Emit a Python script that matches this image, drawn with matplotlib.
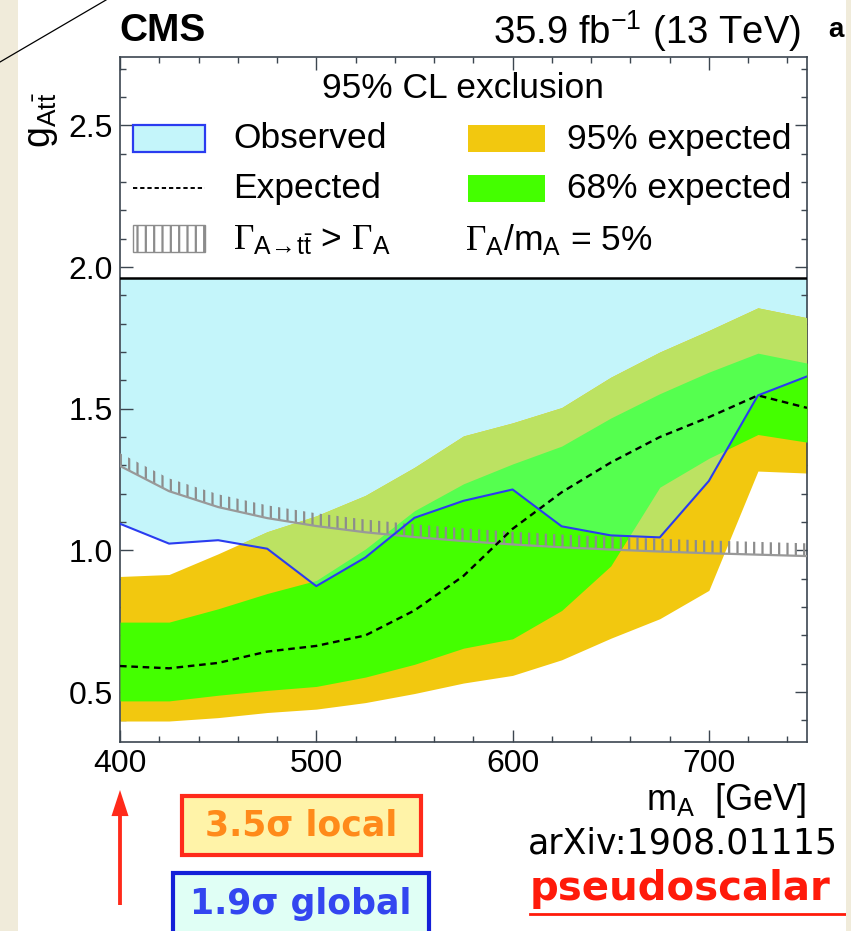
import matplotlib
matplotlib.use("Agg")
import matplotlib.pyplot as plt
from matplotlib.patches import Rectangle, FancyArrow
from matplotlib.lines import Line2D
from matplotlib.ticker import MultipleLocator

plt.rcParams['font.family'] = ['Liberation Sans', 'DejaVu Sans']
plt.rcParams['mathtext.fontset'] = 'custom'
plt.rcParams['mathtext.rm'] = 'Liberation Sans'
plt.rcParams['mathtext.it'] = 'Liberation Sans:italic'
plt.rcParams['mathtext.bf'] = 'Liberation Sans:bold'
plt.rcParams['mathtext.cal'] = 'Liberation Serif'
plt.rcParams['hatch.linewidth'] = 1.6

# ---- limits on the A->tt coupling, Gamma_A/m_A = 5% ----
mass = [400, 425, 450, 475, 500, 525, 550, 575, 600, 625, 650, 675, 700, 725, 750]
observed = [1.094, 1.024, 1.036, 1.006, 0.874, 0.975, 1.115, 1.175, 1.215,
            1.085, 1.053, 1.046, 1.245, 1.547, 1.614]
expected = [0.592, 0.584, 0.603, 0.643, 0.663, 0.700, 0.788, 0.910, 1.076,
            1.205, 1.310, 1.400, 1.470, 1.547, 1.503]
exp95_lo = [0.398, 0.398, 0.410, 0.428, 0.440, 0.463, 0.495, 0.532, 0.559,
            0.614, 0.690, 0.759, 0.859, 1.280, 1.273]
exp95_hi = [0.908, 0.915, 0.988, 1.066, 1.122, 1.194, 1.293, 1.404, 1.450,
            1.504, 1.611, 1.700, 1.776, 1.856, 1.821]
exp68_lo = [0.469, 0.469, 0.489, 0.506, 0.520, 0.553, 0.598, 0.655, 0.688,
            0.788, 0.945, 1.223, 1.325, 1.409, 1.382]
exp68_hi = [0.747, 0.747, 0.794, 0.848, 0.894, 1.005, 1.140, 1.235, 1.305,
            1.368, 1.467, 1.553, 1.629, 1.696, 1.661]
# coupling at which Gamma(A->tt) equals the total width
width_limit = [1.298, 1.209, 1.153, 1.114, 1.086, 1.064, 1.047, 1.033, 1.021,
               1.011, 1.003, 0.996, 0.990, 0.985, 0.980]
scan_top = 1.96

C_OBS = '#c4f5fa'
C_95 = '#f2c80f'
C_68 = '#44ff00'
C_95_OBS = '#bce262'
C_68_OBS = '#55ff4f'
C_LINE = '#2a3cf0'
C_GRAY = '#8c8c8c'

W, H = 851, 931
fig = plt.figure(figsize=(W / 100, H / 100), dpi=100)
fig.patch.set_facecolor('white')


def fx(px):
    return px / W


def fy(py):
    return 1 - py / H


ax = fig.add_axes([fx(120), fy(741.7), fx(807) - fx(120), fy(57.3) - fy(741.7)])
ax.set_xlim(400, 750)
ax.set_ylim(0.325, 2.74)

# excluded region and expected bands
obs_fill = ax.fill_between(mass, observed, scan_top, color=C_OBS, lw=0, zorder=1)
ax.fill_between(mass, exp95_lo, exp95_hi, color=C_95, lw=0, zorder=2)
ax.fill_between(mass, exp68_lo, exp68_hi, color=C_68, lw=0, zorder=3)
clip_path = obs_fill.get_paths()[0]
b95 = ax.fill_between(mass, exp95_lo, exp95_hi, color=C_95_OBS, lw=0, zorder=4)
b95.set_clip_path(clip_path, ax.transData)
b68 = ax.fill_between(mass, exp68_lo, exp68_hi, color=C_68_OBS, lw=0, zorder=5)
b68.set_clip_path(clip_path, ax.transData)

# width constraint with hatching on the excluded side
hatch_top = [v + 0.045 for v in width_limit]
ax.fill_between(mass, width_limit, hatch_top, facecolor='none', edgecolor=C_GRAY,
                hatch='||', lw=0, zorder=6)
ax.plot(mass, width_limit, color='#999999', lw=1.6, zorder=7)

ax.plot(mass, expected, color='black', lw=1.7, ls=(0, (2.8, 2.0)), zorder=8)
ax.plot(mass, observed, color=C_LINE, lw=1.5, zorder=9)
ax.axhline(scan_top, color='black', lw=1.8, zorder=10)

# axes styling
for s in ax.spines.values():
    s.set_color('#3c4650')
    s.set_linewidth(1.2)
ax.xaxis.set_major_locator(MultipleLocator(100))
ax.xaxis.set_minor_locator(MultipleLocator(20))
ax.yaxis.set_major_locator(MultipleLocator(0.5))
ax.yaxis.set_minor_locator(MultipleLocator(0.1))
ax.tick_params(which='both', direction='in', top=True, right=True,
               color='#3c4650', width=1.0, labelsize=23, zorder=11)
ax.tick_params(which='major', length=9, pad=5)
ax.tick_params(which='minor', length=4.5)
ax.set_yticks([0.5, 1.0, 1.5, 2.0, 2.5])
ax.set_yticklabels(['0.5', '1.0', '1.5', '2.0', '2.5'])
ax.set_xticks([400, 500, 600, 700])

# header and axis titles
fig.text(fx(119), fy(31), 'CMS', fontsize=28, fontweight='bold', va='center', ha='left')
fig.text(fx(801), fy(31), r'35.9 fb$^{-1}$ (13 TeV)', fontsize=27.5, va='center', ha='right')
fig.text(fx(806), fy(800), r'm$_{\mathrm{A}}$  [GeV]', fontsize=26, va='center', ha='right')
fig.text(fx(42), fy(120), r'$\mathrm{g}_{\mathrm{At}\bar{\mathrm{t}}}$', fontsize=27,
         rotation=90, va='center', ha='center')

# legend
FS = 25.5
fig.text(fx(463), fy(89), '95% CL exclusion', fontsize=FS, va='center', ha='center')
fig.add_artist(Rectangle((fx(133), fy(152)), fx(205) - fx(133), fy(125) - fy(152),
                         transform=fig.transFigure, facecolor=C_OBS,
                         edgecolor=C_LINE, lw=1.6))
fig.text(fx(233), fy(139), 'Observed', fontsize=FS, va='center')
fig.add_artist(Line2D([fx(133), fx(205)], [fy(188), fy(188)], transform=fig.transFigure,
                      color='black', lw=1.4, ls=(0, (2.2, 1.5))))
fig.text(fx(233), fy(189), 'Expected', fontsize=FS, va='center')
fig.add_artist(Rectangle((fx(133), fy(252)), fx(205) - fx(133), fy(225) - fy(252),
                         transform=fig.transFigure, facecolor='white',
                         edgecolor=C_GRAY, hatch='||', lw=1.0))
fig.text(fx(233), fy(240),
         r'$\mathcal{\Gamma}_{\mathrm{A}\!\rightarrow\!\mathrm{t}\bar{\mathrm{t}}}$ > $\mathcal{\Gamma}_{\mathrm{A}}$',
         fontsize=FS, va='center')
fig.add_artist(Rectangle((fx(468), fy(152)), fx(545) - fx(468), fy(125) - fy(152),
                         transform=fig.transFigure, facecolor=C_95, lw=0))
fig.text(fx(567), fy(139), '95% expected', fontsize=FS, va='center')
fig.add_artist(Rectangle((fx(468), fy(202)), fx(545) - fx(468), fy(175) - fy(202),
                         transform=fig.transFigure, facecolor=C_68, lw=0))
fig.text(fx(567), fy(189), '68% expected', fontsize=FS, va='center')
fig.text(fx(465), fy(240),
         r'$\mathcal{\Gamma}_{\mathrm{A}}$/m$_{\mathrm{A}}$ = 5%', fontsize=FS, va='center')

# annotations below the plot
fig.add_artist(FancyArrow(fx(120), fy(905), 0, fy(790) - fy(905), width=0.0045,
                          head_width=0.02, head_length=0.028,
                          length_includes_head=True, transform=fig.transFigure,
                          color='#ff2a1a', lw=0))
fig.add_artist(Rectangle((fx(182), fy(855)), fx(421) - fx(182), fy(796) - fy(855),
                         transform=fig.transFigure, facecolor='#fff3a8',
                         edgecolor='#ff2a1a', lw=3))
fig.text(fx(301), fy(826), '3.5σ local', family='DejaVu Sans', fontweight='bold',
         fontsize=25, color='#ff8a1a', va='center', ha='center')
fig.add_artist(Rectangle((fx(173), fy(940)), fx(429) - fx(173), fy(873) - fy(940),
                         transform=fig.transFigure, facecolor='#e0fff5',
                         edgecolor='#1420d8', lw=3))
fig.text(fx(301), fy(904), '1.9σ global', family='DejaVu Sans', fontweight='bold',
         fontsize=25, color='#3346f0', va='center', ha='center')
fig.text(fx(528), fy(844), 'arXiv:1908.01115', family='DejaVu Sans', fontsize=25,
         color='black', va='center', ha='left')
fig.text(fx(530), fy(889), 'pseudoscalar', family='DejaVu Sans', fontweight='bold',
         fontsize=29, color='#ff1a0a', va='center', ha='left')
fig.add_artist(Line2D([fx(530), fx(846)], [fy(914), fy(914)], transform=fig.transFigure,
                      color='#ff1a0a', lw=2))

# page decorations
fig.text(fx(828), fy(30), 'a', fontsize=20, fontweight='bold', va='center', ha='left')
fig.add_artist(Rectangle((fx(846), 0), 1 - fx(846), 1, transform=fig.transFigure,
                         facecolor='#f0ebda', lw=0, zorder=20))
fig.add_artist(Rectangle((0, 0), fx(18), 1, transform=fig.transFigure,
                         facecolor='#f0ebda', lw=0, zorder=20))
fig.add_artist(Line2D([fx(0), fx(106)], [fy(62), fy(0)], transform=fig.transFigure,
                      color='black', lw=0.9, zorder=21))

fig.savefig('out.png', dpi=100)
